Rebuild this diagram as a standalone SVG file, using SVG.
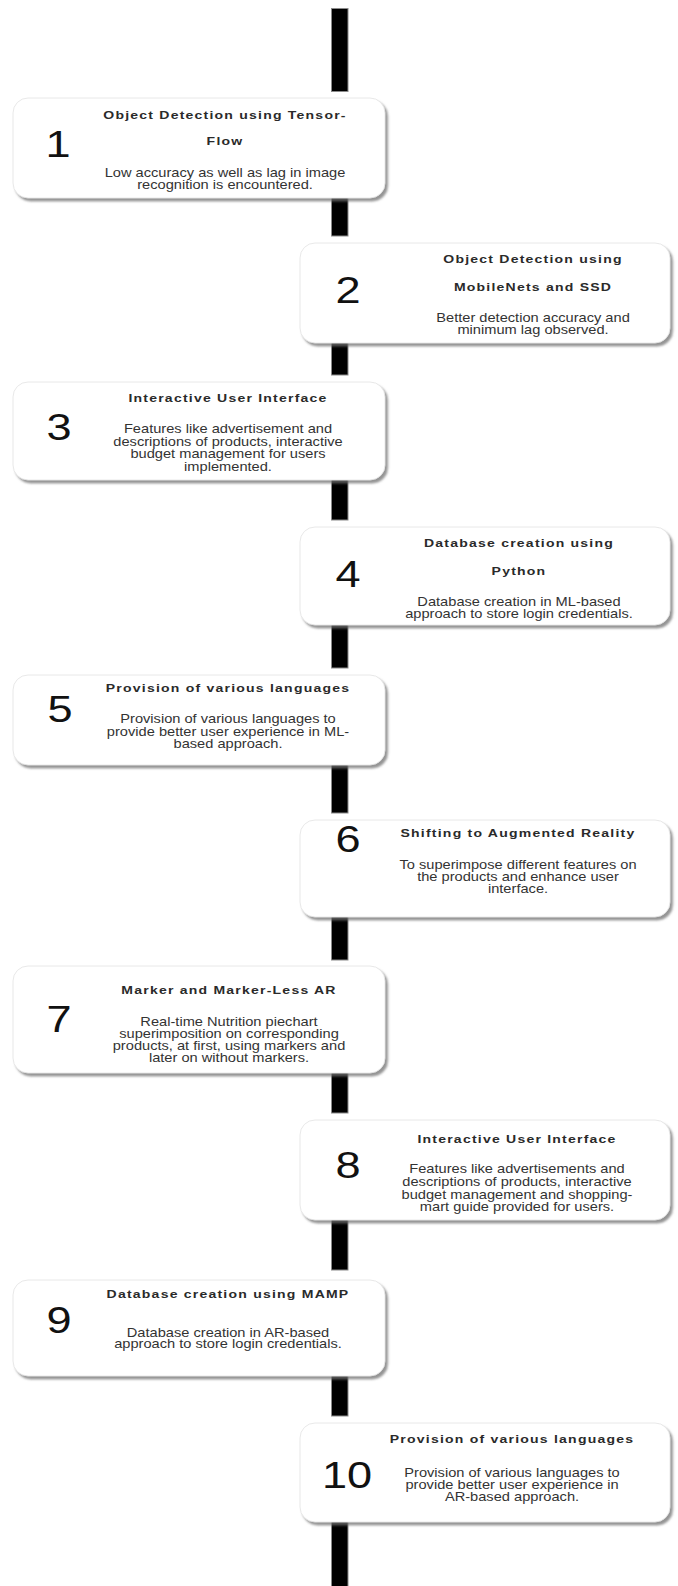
<svg xmlns="http://www.w3.org/2000/svg" width="678" height="1586" viewBox="0 0 678 1586">
<style>
.box{fill:#fff;stroke:#e2e2e2;stroke-width:0.8;filter:url(#sh)}
.bar{fill:#000;stroke:#8a8a8a;stroke-width:1}
.t{font-family:"Liberation Sans",Arial,sans-serif;font-size:11.5px;font-weight:bold;fill:#2a2a2a;letter-spacing:1px;text-anchor:middle}
.b{font-family:"Liberation Sans",Arial,sans-serif;font-size:12px;fill:#333;text-anchor:middle}
.n{font-family:"Liberation Sans",Arial,sans-serif;font-size:37px;fill:#111;text-anchor:middle}
</style>
<defs>
<filter id="sh" x="-5%" y="-10%" width="115%" height="130%">
<feDropShadow dx="2.5" dy="3" stdDeviation="1.2" flood-color="#6f6f6f" flood-opacity="0.75"/>
</filter>
</defs>
<g id="connectors">
<rect class="bar" x="331.5" y="8.5" width="16.5" height="83"/>
<rect class="bar" x="331.5" y="190" width="16.5" height="46"/>
<rect class="bar" x="331.5" y="335" width="16.5" height="40"/>
<rect class="bar" x="331.5" y="475" width="16.5" height="45"/>
<rect class="bar" x="331.5" y="615" width="16.5" height="53"/>
<rect class="bar" x="331.5" y="760" width="16.5" height="53"/>
<rect class="bar" x="331.5" y="910" width="16.5" height="50"/>
<rect class="bar" x="331.5" y="1065" width="16.5" height="48"/>
<rect class="bar" x="331.5" y="1212" width="16.5" height="58"/>
<rect class="bar" x="331.5" y="1370" width="16.5" height="46"/>
<rect class="bar" x="331.5" y="1515" width="16.5" height="75"/>
</g>
<g id="node1">
<rect class="box" x="13" y="98" width="372" height="100" rx="15"/>
<g transform="translate(58 0) scale(1.22 1)"><text class="n" x="0" y="157">1</text></g>
<g transform="translate(225 0) scale(1.22 1)">
<text class="t" x="0" y="119">Object Detection using Tensor-</text>
<text class="t" x="0" y="145">Flow</text>
<text class="b" x="0" y="177">Low accuracy as well as lag in image</text>
<text class="b" x="0" y="189">recognition is encountered.</text>
</g>
</g>
<g id="node2">
<rect class="box" x="300" y="243" width="370" height="100" rx="15"/>
<g transform="translate(348 0) scale(1.22 1)"><text class="n" x="0" y="303">2</text></g>
<g transform="translate(533 0) scale(1.22 1)">
<text class="t" x="0" y="263">Object Detection using</text>
<text class="t" x="0" y="291">MobileNets and SSD</text>
<text class="b" x="0" y="322">Better detection accuracy and</text>
<text class="b" x="0" y="334">minimum lag observed.</text>
</g>
</g>
<g id="node3">
<rect class="box" x="13" y="382" width="372" height="98" rx="15"/>
<g transform="translate(59 0) scale(1.22 1)"><text class="n" x="0" y="440">3</text></g>
<g transform="translate(228 0) scale(1.22 1)">
<text class="t" x="0" y="402">Interactive User Interface</text>
<text class="b" x="0" y="433">Features like advertisement and</text>
<text class="b" x="0" y="446">descriptions of products, interactive</text>
<text class="b" x="0" y="458">budget management for users</text>
<text class="b" x="0" y="471">implemented.</text>
</g>
</g>
<g id="node4">
<rect class="box" x="300" y="527" width="370" height="98" rx="15"/>
<g transform="translate(348 0) scale(1.22 1)"><text class="n" x="0" y="587">4</text></g>
<g transform="translate(519 0) scale(1.22 1)">
<text class="t" x="0" y="547">Database creation using</text>
<text class="t" x="0" y="575">Python</text>
<text class="b" x="0" y="606">Database creation in ML-based</text>
<text class="b" x="0" y="618">approach to store login credentials.</text>
</g>
</g>
<g id="node5">
<rect class="box" x="13" y="675" width="372" height="90" rx="15"/>
<g transform="translate(60 0) scale(1.22 1)"><text class="n" x="0" y="722">5</text></g>
<g transform="translate(228 0) scale(1.22 1)">
<text class="t" x="0" y="692">Provision of various languages</text>
<text class="b" x="0" y="723">Provision of various languages to</text>
<text class="b" x="0" y="736">provide better user experience in ML-</text>
<text class="b" x="0" y="748">based approach.</text>
</g>
</g>
<g id="node6">
<rect class="box" x="300" y="820" width="370" height="97" rx="15"/>
<g transform="translate(348 0) scale(1.22 1)"><text class="n" x="0" y="852">6</text></g>
<g transform="translate(518 0) scale(1.22 1)">
<text class="t" x="0" y="837">Shifting to Augmented Reality</text>
<text class="b" x="0" y="869">To superimpose different features on</text>
<text class="b" x="0" y="881">the products and enhance user</text>
<text class="b" x="0" y="893">interface.</text>
</g>
</g>
<g id="node7">
<rect class="box" x="13" y="966" width="372" height="107" rx="15"/>
<g transform="translate(59 0) scale(1.22 1)"><text class="n" x="0" y="1032">7</text></g>
<g transform="translate(229 0) scale(1.22 1)">
<text class="t" x="0" y="994">Marker and Marker-Less AR</text>
<text class="b" x="0" y="1026">Real-time Nutrition piechart</text>
<text class="b" x="0" y="1038">superimposition on corresponding</text>
<text class="b" x="0" y="1050">products, at first, using markers and</text>
<text class="b" x="0" y="1062">later on without markers.</text>
</g>
</g>
<g id="node8">
<rect class="box" x="300" y="1120" width="370" height="100" rx="15"/>
<g transform="translate(348 0) scale(1.22 1)"><text class="n" x="0" y="1178">8</text></g>
<g transform="translate(517 0) scale(1.22 1)">
<text class="t" x="0" y="1143">Interactive User Interface</text>
<text class="b" x="0" y="1173">Features like advertisements and</text>
<text class="b" x="0" y="1186">descriptions of products, interactive</text>
<text class="b" x="0" y="1199">budget management and shopping-</text>
<text class="b" x="0" y="1211">mart guide provided for users.</text>
</g>
</g>
<g id="node9">
<rect class="box" x="13" y="1280" width="372" height="96" rx="15"/>
<g transform="translate(59 0) scale(1.22 1)"><text class="n" x="0" y="1333">9</text></g>
<g transform="translate(228 0) scale(1.22 1)">
<text class="t" x="0" y="1298">Database creation using MAMP</text>
<text class="b" x="0" y="1337">Database creation in AR-based</text>
<text class="b" x="0" y="1348">approach to store login credentials.</text>
</g>
</g>
<g id="node10">
<rect class="box" x="300" y="1423" width="370" height="99" rx="15"/>
<g transform="translate(347 0) scale(1.22 1)"><text class="n" x="0" y="1488">10</text></g>
<g transform="translate(512 0) scale(1.22 1)">
<text class="t" x="0" y="1443">Provision of various languages</text>
<text class="b" x="0" y="1477">Provision of various languages to</text>
<text class="b" x="0" y="1489">provide better user experience in</text>
<text class="b" x="0" y="1501">AR-based approach.</text>
</g>
</g>
</svg>
